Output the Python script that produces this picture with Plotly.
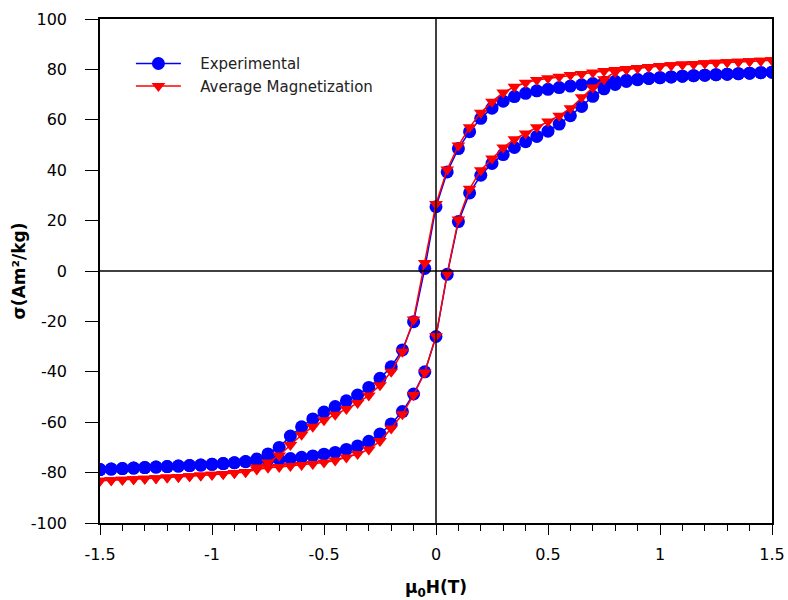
import plotly.graph_objects as go

# Applied field grid (T), ascending
H = [-1.5, -1.45, -1.4, -1.35, -1.3, -1.25, -1.2, -1.15, -1.1, -1.05,
     -1.0, -0.95, -0.9, -0.85, -0.8, -0.75, -0.7, -0.65, -0.6, -0.55,
     -0.5, -0.45, -0.4, -0.35, -0.3, -0.25, -0.2, -0.15, -0.1, -0.05,
     0.0, 0.05, 0.1, 0.15, 0.2, 0.25, 0.3, 0.35, 0.4, 0.45,
     0.5, 0.55, 0.6, 0.65, 0.7, 0.75, 0.8, 0.85, 0.9, 0.95,
     1.0, 1.05, 1.1, 1.15, 1.2, 1.25, 1.3, 1.35, 1.4, 1.45, 1.5]

# Experimental: descending (upper) branch, listed at H ascending
exp_down = [-78.8, -78.6, -78.4, -78.2, -78.0, -77.8, -77.6, -77.4, -77.2, -77.0,
            -76.7, -76.4, -76.1, -75.6, -74.6, -72.6, -70.0, -65.5, -61.8, -58.7,
            -56.0, -53.8, -51.5, -49.2, -46.2, -42.6, -38.0, -31.3, -20.1, 1.0,
            25.5, 39.3, 48.6, 55.3, 60.6, 64.6, 67.4, 69.2, 70.5, 71.5,
            72.1, 72.8, 73.4, 73.9, 74.4, 74.9, 75.3, 75.7, 76.0, 76.4,
            76.7, 77.0, 77.3, 77.5, 77.7, 77.9, 78.1, 78.3, 78.5, 78.7, 78.9]
# Experimental: ascending (lower) branch
exp_up = [-78.8, -78.6, -78.4, -78.2, -78.0, -77.8, -77.6, -77.4, -77.2, -77.0,
          -76.7, -76.4, -76.1, -75.7, -75.3, -75.0, -74.7, -74.4, -73.9, -73.4,
          -72.7, -72.0, -70.8, -69.4, -67.6, -64.7, -60.7, -55.8, -48.8, -40.0,
          -26.0, -1.3, 19.6, 31.0, 38.0, 42.7, 46.2, 49.0, 51.3, 53.4,
          55.5, 58.3, 61.6, 65.3, 69.3, 72.3, 74.0, 75.2, 75.9, 76.4,
          76.7, 77.0, 77.3, 77.5, 77.7, 77.9, 78.1, 78.3, 78.5, 78.7, 78.9]

# Average magnetization: descending branch
avg_down = [-83.2, -83.0, -82.8, -82.6, -82.4, -82.2, -81.9, -81.7, -81.4, -81.2,
            -80.9, -80.6, -80.2, -79.8, -78.0, -76.0, -73.2, -69.0, -65.0, -61.8,
            -59.2, -57.0, -54.8, -52.4, -49.4, -45.3, -40.0, -32.0, -19.2, 3.2,
            26.6, 40.3, 49.8, 57.0, 62.8, 67.2, 70.8, 73.1, 74.7, 75.8,
            76.5, 77.1, 77.8, 78.2, 78.8, 79.4, 79.8, 80.2, 80.6, 81.0,
            81.3, 81.6, 81.9, 82.1, 82.4, 82.6, 82.8, 83.0, 83.2, 83.4, 83.6]
# Average magnetization: ascending branch
avg_up = [-83.2, -83.0, -82.8, -82.6, -82.4, -82.2, -81.9, -81.7, -81.4, -81.2,
          -80.9, -80.6, -80.2, -79.8, -78.8, -78.1, -77.8, -77.4, -77.0, -76.6,
          -76.0, -75.2, -74.0, -72.6, -70.8, -67.5, -62.5, -56.8, -49.2, -40.3,
          -25.8, -1.0, 20.4, 32.6, 40.0, 44.6, 49.0, 52.3, 54.6, 57.0,
          59.3, 61.6, 64.6, 68.9, 72.8, 76.1, 79.0, 80.0, 80.5, 81.0,
          81.3, 81.6, 81.9, 82.1, 82.4, 82.6, 82.8, 83.0, 83.2, 83.4, 83.6]

x_tick_vals = [-1.5, -1, -0.5, 0, 0.5, 1, 1.5]
x_tick_text = ["-1.5", "-1", "-0.5", "0", "0.5", "1", "1.5"]
y_tick_vals = [-100, -80, -60, -40, -20, 0, 20, 40, 60, 80, 100]
y_tick_text = ["-100", "-80", "-60", "-40", "-20", "0", "20", "40", "60", "80", "100"]

FONT = "DejaVu Sans"
PAD = "\u00a0\u00a0\u00a0"

loop_x = H[::-1] + H
exp_loop = exp_down[::-1] + exp_up
avg_loop = avg_down[::-1] + avg_up

fig = go.Figure()
fig.add_trace(go.Scatter(
    x=loop_x, y=exp_loop, mode="lines+markers", name=PAD + "Experimental",
    line=dict(color="#0000ff", width=1.5),
    marker=dict(symbol="circle", size=13, color="#0000ff"),
))
fig.add_trace(go.Scatter(
    x=loop_x, y=avg_loop, mode="lines+markers", name=PAD + "Average Magnetization",
    line=dict(color="#ff0000", width=1.5),
    marker=dict(symbol="triangle-down", size=12, color="#ff0000"),
))

# zero reference lines drawn above the markers
fig.add_shape(type="line", xref="x", yref="paper", x0=0, x1=0, y0=0, y1=1,
              line=dict(color="black", width=1.5), layer="above")
fig.add_shape(type="line", xref="paper", yref="y", x0=0, x1=1, y0=0, y1=0,
              line=dict(color="black", width=1.5), layer="above")

fig.update_layout(
    width=788, height=600,
    margin=dict(l=100, r=16, t=19, b=77),
    paper_bgcolor="white", plot_bgcolor="white",
    font=dict(family=FONT, size=16, color="black"),
    showlegend=True,
    legend=dict(
        x=0.046, y=0.944, xanchor="left", yanchor="top",
        bgcolor="rgba(0,0,0,0)", borderwidth=0,
        font=dict(family=FONT, size=15, color="#222222"),
        itemwidth=45, tracegroupgap=0,
    ),
    xaxis=dict(
        range=[-1.5, 1.5], tickvals=x_tick_vals, ticktext=x_tick_text,
        ticks="outside", ticklen=10, tickwidth=1.2, tickcolor="black",
        minor=dict(dtick=0.1, ticks="outside", ticklen=6, tickwidth=1.2, tickcolor="black"),
        showline=True, linecolor="black", linewidth=1.5, mirror=True,
        showgrid=False, zeroline=False, automargin=False,
        ticklabelstandoff=6,
        tickfont=dict(family=FONT, size=16),
        title=dict(text="<b>μ<sub>0</sub>H(T)</b>", font=dict(family=FONT, size=17), standoff=27),
    ),
    yaxis=dict(
        range=[-100, 100], tickvals=y_tick_vals, ticktext=y_tick_text,
        ticks="outside", ticklen=13, tickwidth=1.2, tickcolor="black",
        showline=True, linecolor="black", linewidth=1.5, mirror=True,
        showgrid=False, zeroline=False, automargin=False,
        ticklabelstandoff=15,
        tickfont=dict(family=FONT, size=16),
        title=dict(text="<b>σ(Am²/kg)</b>", font=dict(family=FONT, size=17), standoff=1),
    ),
)

# remove the default page margin so the 788x600 figure fills the window exactly
fig.write_html(
    "out.html",
    config={"displayModeBar": False},
    post_script="document.body.style.margin='0';document.body.style.overflow='hidden';",
)
